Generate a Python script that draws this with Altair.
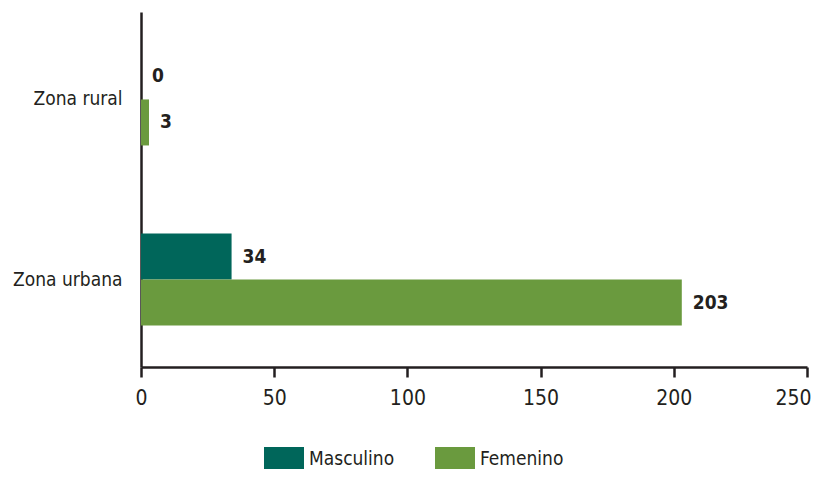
import altair as alt
import pandas as pd

zonas = ["Zona rural", "Zona urbana"]
sexos = ["Masculino", "Femenino"]
masculino = [0, 34]
femenino = [3, 203]
colores = ["#00665a", "#6a9a3e"]
x_ticks = [0, 50, 100, 150, 200, 250]

rows = []
for i, z in enumerate(zonas):
    rows.append({"zona": z, "sexo": "Masculino", "valor": masculino[i]})
    rows.append({"zona": z, "sexo": "Femenino", "valor": femenino[i]})
df = pd.DataFrame(rows)

FONT = "Liberation Sans Narrow, Arial Narrow, DejaVu Sans Condensed, sans-serif"
DARK = "#231f20"

y = alt.Y("zona:N", sort=zonas, title=None,
          scale=alt.Scale(paddingInner=0.489, paddingOuter=0.23),
          axis=alt.Axis(ticks=False, labelFontSize=19, labelPadding=19,
                        domainWidth=2.5, domainColor=DARK, labelColor=DARK,
                        labelFont=FONT))
yoff = alt.YOffset("sexo:N", sort=sexos, scale=alt.Scale(paddingInner=0, paddingOuter=0))
x = alt.X("valor:Q", title=None,
          scale=alt.Scale(domain=[0, 250], nice=False),
          axis=alt.Axis(values=x_ticks, grid=False, tickSize=10, tickWidth=2.5,
                        tickColor=DARK, domainWidth=2.5, domainColor=DARK,
                        labelFontSize=21, labelPadding=10, labelColor=DARK,
                        labelFont=FONT, labelFlush=False,
                        labelAlign=alt.expr("datum.value == 250 ? 'right' : 'center'"),
                        labelOffset=alt.expr("datum.value == 250 ? 4 : 0")))
color = alt.Color("sexo:N", sort=sexos,
                  scale=alt.Scale(domain=sexos, range=colores),
                  legend=alt.Legend(orient="none", legendX=123, legendY=427,
                                    direction="horizontal", title=None,
                                    symbolType="M-1,-0.6H1V0.6H-1Z", symbolSize=1600,
                                    symbolStrokeWidth=0, symbolOpacity=1,
                                    labelFontSize=19, labelFont=FONT, labelColor=DARK,
                                    labelOffset=5, columnPadding=40))

bars = alt.Chart(df).mark_bar().encode(y=y, yOffset=yoff, x=x, color=color)
labels = alt.Chart(df).mark_text(align="left", baseline="middle", dx=11,
                                 fontWeight="bold", fontSize=19, font=FONT,
                                 color=DARK).encode(
    y=y, yOffset=yoff, x=x, text="valor:Q")

chart = (bars + labels).properties(
    width=666, height=355,
    autosize=alt.AutoSizeParams(type="none"),
    padding={"left": 133, "top": 4, "right": 4, "bottom": 102},
).configure_view(stroke=None)

chart.save("out.html", embed_options={"renderer": "svg", "actions": False})
